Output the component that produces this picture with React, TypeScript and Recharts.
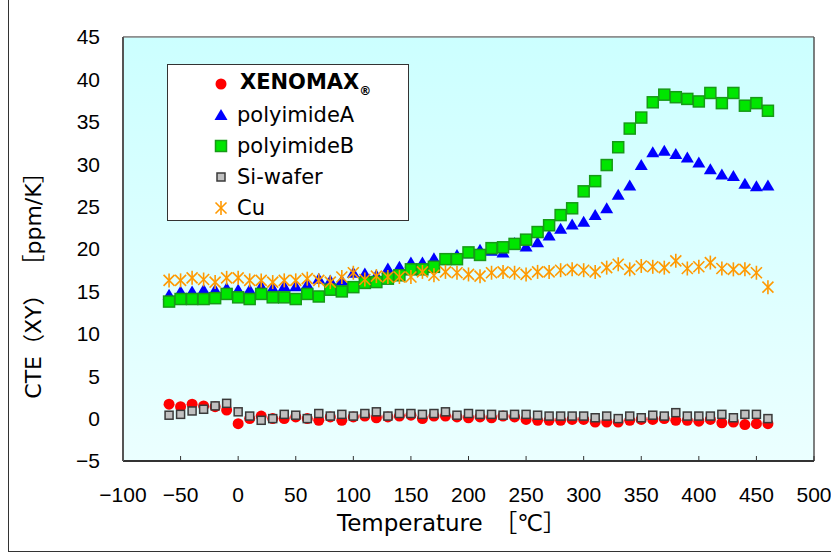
import { ScatterChart, Scatter, XAxis, YAxis, CartesianGrid, ReferenceLine, ReferenceArea, Legend } from 'recharts';

const TEMPS = [
  -60, -50, -40, -30, -20, -10, 0, 10, 20, 30, 40, 50, 60, 70, 80, 90, 100, 110, 120, 130, 140, 150, 160, 170, 180, 190,
  200, 210, 220, 230, 240, 250, 260, 270, 280, 290, 300, 310, 320, 330, 340, 350, 360, 370, 380, 390, 400, 410, 420, 430,
  440, 450, 460,
];

const XENOMAX = [
  1.7, 1.4, 1.7, 1.5, 1.4, 1.0, -0.6, 0.0, 0.3, 0.0, 0.0, 0.2, 0.0, -0.2, 0.2, -0.2, 0.2, 0.3, 0.1, 0.2, 0.3, 0.4, 0.0, 0.3,
  0.3, 0.2, 0.1, 0.2, 0.1, 0.3, 0.2, -0.1, -0.2, -0.2, -0.2, -0.1, -0.1, -0.4, -0.4, -0.4, -0.2, -0.1, -0.1, 0.0, -0.2, -0.2,
  -0.3, -0.1, -0.5, -0.4, -0.7, -0.6, -0.6,
];

const POLYIMIDE_A = [
  14.6, 15.0, 15.0, 15.2, 15.2, 15.4, 15.2, 15.2, 15.6, 15.4, 15.6, 15.6, 15.8, 16.5, 16.3, 16.3, 17.2, 17.1, 16.9, 17.7,
  17.9, 18.4, 18.4, 18.9, 18.7, 19.3, 19.5, 19.9, 19.8, 19.6, 20.7, 20.3, 20.8, 21.6, 22.4, 22.9, 23.2, 24.0, 24.8, 26.4,
  27.5, 29.9, 31.4, 31.6, 31.2, 30.8, 30.2, 29.4, 28.8, 28.6, 27.7, 27.4, 27.5,
];

const POLYIMIDE_B = [
  13.8, 14.1, 14.1, 14.1, 14.2, 14.7, 14.3, 14.1, 14.7, 14.3, 14.3, 14.1, 14.7, 14.4, 15.2, 15.0, 15.5, 16.0, 16.1, 16.5,
  16.9, 17.6, 17.6, 17.9, 18.8, 18.8, 19.6, 19.3, 20.1, 20.2, 20.6, 21.1, 22.0, 22.8, 24.0, 24.8, 26.8, 28.0, 29.9, 32.0,
  34.2, 35.5, 37.3, 38.2, 37.9, 37.7, 37.4, 38.4, 37.2, 38.4, 36.9, 37.2, 36.3,
];

const SI_WAFER = [
  0.4, 0.5, 0.9, 1.1, 1.5, 1.8, 0.8, 0.3, -0.2, 0.0, 0.5, 0.4, 0.0, 0.6, 0.3, 0.5, 0.3, 0.6, 0.8, 0.3, 0.6, 0.6, 0.5, 0.6,
  0.8, 0.4, 0.6, 0.5, 0.5, 0.4, 0.5, 0.5, 0.4, 0.3, 0.3, 0.3, 0.3, 0.1, 0.3, 0.0, 0.3, 0.1, 0.4, 0.3, 0.7, 0.3, 0.3, 0.3,
  0.5, 0.1, 0.5, 0.5, 0.0,
];

const CU = [
  16.3, 16.3, 16.6, 16.4, 16.1, 16.6, 16.6, 16.3, 16.3, 16.1, 16.3, 16.3, 16.5, 16.3, 16.1, 16.7, 17.2, 16.4, 16.8, 16.7,
  16.7, 16.7, 17.3, 16.9, 17.3, 17.2, 17.0, 16.8, 17.2, 17.3, 17.2, 17.0, 17.3, 17.3, 17.5, 17.6, 17.5, 17.3, 17.8, 18.2,
  17.6, 18.0, 17.9, 17.8, 18.6, 17.7, 17.9, 18.4, 17.7, 17.6, 17.6, 17.2, 15.5,
];

const X_TICKS = [-100, -50, 0, 50, 100, 150, 200, 250, 300, 350, 400, 450, 500];
const Y_TICKS = [-5, 0, 5, 10, 15, 20, 25, 30, 35, 40, 45];

const FONT = '"Liberation Sans", "Noto Sans CJK JP", sans-serif';
const TITLE_FONT = '"DejaVu Sans", "Noto Sans CJK JP", sans-serif';

const toPoints = (vals: number[]) => TEMPS.map((t, i) => ({ x: t, y: vals[i] }));

const fmt = (v: number) => (v < 0 ? '\u2212' + Math.abs(v) : String(v));

// marker shapes, drawn around the cx/cy that recharts hands us
const Circle = ({ cx, cy }: any) => <circle cx={cx} cy={cy} r={5.5} fill="#ff0000" />;
const Triangle = ({ cx, cy }: any) => (
  <polygon points={`${cx},${cy - 6} ${cx + 6.5},${cy + 5} ${cx - 6.5},${cy + 5}`} fill="#0000ff" />
);
const GreenSquare = ({ cx, cy }: any) => (
  <rect x={cx - 5.5} y={cy - 5.5} width={11} height={11} fill="#00e600" stroke="#179a17" strokeWidth={1.5} />
);
const GraySquare = ({ cx, cy }: any) => (
  <rect x={cx - 4} y={cy - 4} width={8} height={8} fill="#c0c0c0" stroke="#3a3a3a" strokeWidth={1.5} />
);
const Star = ({ cx, cy }: any) => (
  <g stroke="#ff9900" strokeWidth={1.6}>
    <line x1={cx - 5.5} y1={cy - 5.5} x2={cx + 5.5} y2={cy + 5.5} />
    <line x1={cx - 5.5} y1={cy + 5.5} x2={cx + 5.5} y2={cy - 5.5} />
    <line x1={cx} y1={cy - 7} x2={cx} y2={cy + 7} />
  </g>
);

const LEGEND_ROWS = [
  { key: 'xenomax', Shape: Circle },
  { key: 'polyimideA', Shape: Triangle },
  { key: 'polyimideB', Shape: GreenSquare },
  { key: 'Si-wafer', Shape: GraySquare },
  { key: 'Cu', Shape: Star },
];

function LegendBox() {
  return (
    <div
      style={{
        width: 242,
        height: 157,
        background: '#fff',
        border: '1px solid #333',
        fontFamily: TITLE_FONT,
        fontSize: 21,
        color: '#000',
        paddingTop: 3,
        boxSizing: 'border-box',
      }}
    >
      {LEGEND_ROWS.map(({ key, Shape }) => (
        <div key={key} style={{ display: 'flex', alignItems: 'center', height: 31 }}>
          <svg width={16} height={16} style={{ marginLeft: 45, marginRight: 8 }}>
            <Shape cx={8} cy={8} />
          </svg>
          {key === 'xenomax' ? (
            <span style={{ fontWeight: 'bold', marginLeft: 3 }}>
              XENOMAX<span style={{ fontSize: 12, verticalAlign: -6 }}>®</span>
            </span>
          ) : (
            <span>{key}</span>
          )}
        </div>
      ))}
    </div>
  );
}

export default function App() {
  return (
    <div style={{ position: 'absolute', left: 0, top: 0, width: 831, height: 553, background: '#fff' }}>
      <div
        style={{
          position: 'absolute',
          left: 8,
          top: -1,
          width: 840,
          height: 553,
          borderLeft: '1px solid #333',
          borderBottom: '1px solid #333',
          boxSizing: 'border-box',
        }}
      />
      <ScatterChart width={831} height={553} margin={{ top: 37, right: 17, bottom: 0, left: 0 }}>
        <defs>
          <linearGradient id="plotBg" x1="0" y1="0" x2="0" y2="1">
            <stop offset="0%" stopColor="#ccffff" />
            <stop offset="100%" stopColor="#ebffff" />
          </linearGradient>
        </defs>
        <ReferenceArea x1={-100} x2={500} y1={-5} y2={45} fill="url(#plotBg)" fillOpacity={1} stroke="none" />
        <CartesianGrid vertical={false} stroke="#3c3c3c" strokeOpacity={1} />
        <XAxis
          type="number"
          dataKey="x"
          domain={[-100, 500]}
          ticks={X_TICKS}
          tickFormatter={fmt}
          height={92}
          tickSize={-5}
          tickMargin={31}
          axisLine={{ stroke: '#333', strokeWidth: 2 }}
          tickLine={{ stroke: '#333' }}
          tick={{ fill: '#000', fontSize: 21, fontFamily: FONT }}
          allowDataOverflow
          label={{
            content: ({ viewBox }: any) => (
              <text
                x={viewBox.x + viewBox.width / 2 - 17}
                y={523}
                textAnchor="middle"
                dominantBaseline="central"
                fontSize={23}
                fontFamily={TITLE_FONT}
                fill="#000"
              >
                Temperature　［℃］
              </text>
            ),
          }}
        />
        <YAxis
          type="number"
          dataKey="y"
          domain={[-5, 45]}
          ticks={Y_TICKS}
          tickFormatter={fmt}
          width={123}
          tickLine={false}
          tickSize={0}
          tickMargin={23}
          axisLine={{ stroke: '#555', strokeWidth: 2 }}
          tick={{ fill: '#000', fontSize: 21, fontFamily: FONT }}
          allowDataOverflow
          label={{
            content: ({ viewBox }: any) => {
              const cx = viewBox.x + 33;
              const cy = viewBox.y + viewBox.height / 2 + 31;
              return (
                <text
                  x={cx}
                  y={cy}
                  transform={`rotate(-90, ${cx}, ${cy})`}
                  textAnchor="middle"
                  dominantBaseline="central"
                  fontSize={22}
                  fontFamily={TITLE_FONT}
                  fill="#000"
                >
                  CTE（XY） ［ppm/K］
                </text>
              );
            },
          }}
        />
        <ReferenceLine y={45} stroke="#8a8a8a" strokeWidth={1.5} />
        <ReferenceLine x={500} stroke="#555" strokeWidth={1.5} />
        <Scatter name="XENOMAX" data={toPoints(XENOMAX)} shape={Circle} isAnimationActive={false} />
        <Scatter name="polyimideA" data={toPoints(POLYIMIDE_A)} shape={Triangle} isAnimationActive={false} />
        <Scatter name="polyimideB" data={toPoints(POLYIMIDE_B)} shape={GreenSquare} isAnimationActive={false} />
        <Scatter name="Si-wafer" data={toPoints(SI_WAFER)} shape={GraySquare} isAnimationActive={false} />
        <Scatter name="Cu" data={toPoints(CU)} shape={Star} isAnimationActive={false} />
        <Legend
          layout="vertical"
          align="center"
          verticalAlign="middle"
          content={() => <LegendBox />}
          wrapperStyle={{ left: 167, top: 64, width: 242, height: 157 }}
        />
      </ScatterChart>
    </div>
  );
}
